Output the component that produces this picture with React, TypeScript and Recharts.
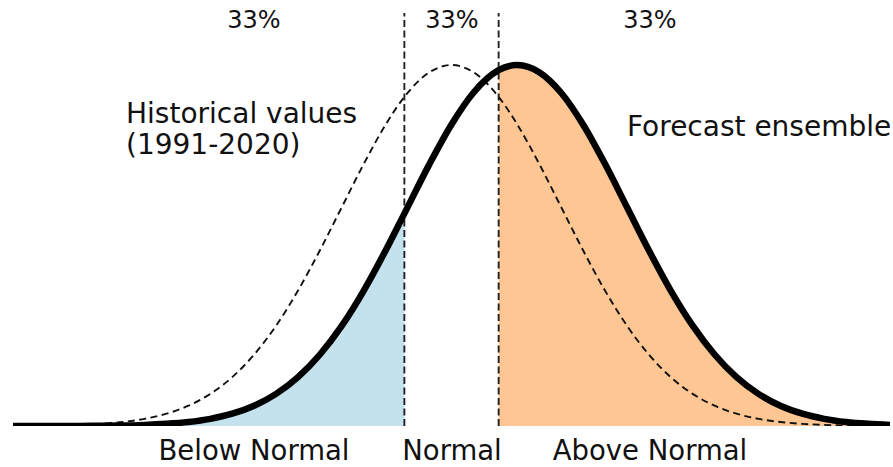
import React from "react";
import { ComposedChart, Line, Area, XAxis, YAxis, ReferenceLine } from "recharts";

// standardized anomaly grid
const xValues = [
  -4.0, -3.8, -3.6, -3.4, -3.2, -3.0, -2.8, -2.6, -2.4, -2.2, -2.0, -1.8, -1.6, -1.4, -1.2, -1.0, -0.8, -0.6,
  -0.43, -0.2, 0, 0.2, 0.43,
  0.6, 0.8, 1.0, 1.2, 1.4, 1.6, 1.8, 2.0, 2.2, 2.4, 2.6, 2.8, 3.0, 3.2, 3.4, 3.6, 3.8, 4.0,
];

// historical values (1991-2020), density
const historical = [
  0.0001, 0.0003, 0.0006, 0.0012, 0.0024, 0.0044, 0.0079, 0.0136, 0.0224, 0.0355, 0.054, 0.079, 0.1109, 0.1497, 0.1942, 0.242, 0.2897, 0.3332,
  0.3637, 0.391, 0.3989, 0.391, 0.3637,
  0.3332, 0.2897, 0.242, 0.1942, 0.1497, 0.1109, 0.079, 0.054, 0.0355, 0.0224, 0.0136, 0.0079, 0.0044, 0.0024, 0.0012, 0.0006, 0.0003, 0.0001,
];

// forecast ensemble, density
const forecast = [
  0.0, 0.0, 0.0001, 0.0001, 0.0003, 0.0006, 0.0012, 0.0024, 0.0044, 0.0079, 0.0136, 0.0224, 0.0355, 0.054, 0.079, 0.1109, 0.1497, 0.1942,
  0.2347, 0.2897, 0.3332, 0.3683, 0.3932,
  0.3989, 0.391, 0.3683, 0.3332, 0.2897, 0.242, 0.1942, 0.1497, 0.1109, 0.079, 0.054, 0.0355, 0.0224, 0.0136, 0.0079, 0.0044, 0.0024, 0.0012,
];

// tercile boundaries of the historical distribution
const terciles = [-0.43, 0.43];

const topLabels = ["33%", "33%", "33%"];
const bottomLabels = ["Below Normal", "Normal", "Above Normal"];

const data = xValues.map((x, i) => ({
  x,
  historical: historical[i],
  forecast: forecast[i],
  below: x <= terciles[0] ? forecast[i] : null,
  above: x >= terciles[1] ? forecast[i] : null,
}));

const W = 893;
const H = 467;
const FONT = "'DejaVu Sans', Verdana, sans-serif";

export default function App() {
  return (
    <div style={{ position: "absolute", left: 0, top: 0, width: W, height: H, background: "#fff" }}>
      <ComposedChart width={W} height={H} data={data} margin={{ top: 13, right: 3, bottom: 41, left: 13 }}>
        <XAxis dataKey="x" type="number" domain={[-4, 4]} hide allowDataOverflow />
        <YAxis type="number" domain={[0, 0.4564]} hide allowDataOverflow />
        <Area
          dataKey="below"
          type="monotone"
          fill="#c3e2ed"
          fillOpacity={1}
          stroke="none"
          isAnimationActive={false}
          connectNulls={false}
        />
        <Area
          dataKey="above"
          type="monotone"
          fill="#fdc692"
          fillOpacity={1}
          stroke="none"
          isAnimationActive={false}
          connectNulls={false}
        />
        {terciles.map((t) => (
          <ReferenceLine key={t} x={t} stroke="#222" strokeWidth={1.9} strokeDasharray="7 3.5" />
        ))}
        <Line
          dataKey="historical"
          type="monotone"
          stroke="#111"
          strokeWidth={1.9}
          strokeDasharray="7 4.5"
          dot={false}
          activeDot={false}
          isAnimationActive={false}
        />
        <Line
          dataKey="forecast"
          type="monotone"
          stroke="#000"
          strokeWidth={6.5}
          dot={false}
          activeDot={false}
          isAnimationActive={false}
        />
      </ComposedChart>
      <svg
        width={W}
        height={H}
        style={{ position: "absolute", left: 0, top: 0, pointerEvents: "none" }}
        fontFamily={FONT}
        fill="#111"
      >
        <text x={254} y={28} fontSize={24} textAnchor="middle">{topLabels[0]}</text>
        <text x={452} y={28} fontSize={24} textAnchor="middle">{topLabels[1]}</text>
        <text x={650} y={28} fontSize={24} textAnchor="middle">{topLabels[2]}</text>
        <text x={254} y={460} fontSize={27.5} textAnchor="middle">{bottomLabels[0]}</text>
        <text x={452} y={460} fontSize={27.5} textAnchor="middle">{bottomLabels[1]}</text>
        <text x={650} y={460} fontSize={27.5} textAnchor="middle">{bottomLabels[2]}</text>
        <text x={126} y={123} fontSize={28}>Historical values</text>
        <text x={126} y={154} fontSize={28}>(1991-2020)</text>
        <text x={627} y={136} fontSize={28}>Forecast ensemble</text>
      </svg>
    </div>
  );
}
